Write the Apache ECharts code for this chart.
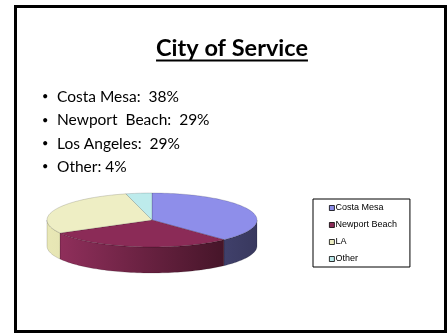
<!DOCTYPE html>
<html>
<head>
<meta charset="utf-8">
<script src="https://cdn.jsdelivr.net/npm/echarts@6/dist/echarts.min.js"></script>
<style>
html,body{margin:0;padding:0;background:#fff;}
#chart{width:448px;height:333px;}
</style>
</head>
<body>
<div id="chart"></div>
<script>
// ---- data ----
const titleText = 'City of Service';
const categories = ['Costa Mesa', 'Newport Beach', 'LA', 'Other'];
const values = [38, 29, 29, 4];
const bulletNames = ['Costa Mesa:  ', 'Newport  Beach:  ', 'Los Angeles:  ', 'Other: '];

// ---- style ----
const topColors = ['#8e8eea', '#8b2b57', '#eeeec4', '#bdebec'];
const sideColors = [['#6b6bb0', '#38385e'], ['#95315f', '#37101f'], ['#e9e8b6', '#b9b88a'], ['#a8d8d8', '#7eaaaa']];
const cx = 152, cy = 220, rx = 105, ry = 27, depth = 26;

const total = values.reduce((a, b) => a + b, 0);

function arcPts(a, b, dy) {
  const pts = [];
  const n = Math.max(2, Math.ceil(Math.abs(b - a) / 0.03));
  for (let i = 0; i <= n; i++) {
    const t = a + (b - a) * i / n;
    pts.push([cx + rx * Math.sin(t), cy - ry * Math.cos(t) + dy]);
  }
  return pts;
}

function makeRender(idx) {
  return function (params, api) {
    let before = 0;
    for (let k = 0; k < idx; k++) before += values[k];
    const v = api.value(0);
    const t1 = before / total * Math.PI * 2;
    const t2 = (before + v) / total * Math.PI * 2;
    const children = [];
    const a = Math.max(t1, Math.PI / 2), b = Math.min(t2, Math.PI * 1.5);
    if (b > a) {
      const pts = arcPts(a, b, 0).concat(arcPts(b, a, depth));
      children.push({
        type: 'polygon',
        shape: { points: pts },
        style: {
          fill: new echarts.graphic.LinearGradient(cx - rx, 0, cx + rx, 0, [
            { offset: 0, color: sideColors[idx][0] },
            { offset: 1, color: sideColors[idx][1] }
          ], true),
          stroke: 'rgba(0,0,0,0.3)', lineWidth: 0.5
        }
      });
    }
    const topPts = [[cx, cy]].concat(arcPts(t1, t2, 0));
    children.push({
      type: 'polygon',
      shape: { points: topPts },
      style: { fill: topColors[idx], stroke: 'rgba(0,0,0,0.3)', lineWidth: 0.5 }
    });
    return { type: 'group', children: children };
  };
}

const chart = echarts.init(document.getElementById('chart'), null, { renderer: 'canvas' });

const cvs = document.createElement('canvas').getContext('2d');
const titleFont = 'bold 23.5px Lato';
cvs.font = titleFont;
const titleW = cvs.measureText(titleText).width;
const titleX = 232;

const bulletText = bulletNames.map((n, i) => '{b|\u2022}{t|' + n + values[i] + '%}').join('\n');

chart.setOption({
  animation: false,
  title: [
    {
      text: titleText, left: titleX - titleW / 2, top: 34.5, padding: 0,
      textStyle: { fontFamily: 'Lato', fontWeight: 'bold', fontSize: 23.5, lineHeight: 28, color: '#000' }
    },
    {
      text: bulletText, left: 42, top: 85.3, padding: 0,
      textStyle: {
        fontFamily: 'Lato', fontWeight: 'normal', fontSize: 15.5, lineHeight: 23.3, color: '#000',
        rich: {
          b: { width: 15, fontFamily: 'Lato', fontSize: 11, lineHeight: 23.3, color: '#000' },
          t: { fontFamily: 'Lato', fontSize: 15.5, lineHeight: 23.3, color: '#000' }
        }
      }
    }
  ],
  legend: {
    orient: 'vertical', left: 313, top: 199,
    padding: [4, 13, 3, 16],
    borderColor: '#000', borderWidth: 1,
    itemWidth: 5, itemHeight: 5, itemGap: 7,
    icon: 'rect',
    itemStyle: { borderColor: '#000', borderWidth: 0.8 },
    data: categories,
    textStyle: { fontFamily: 'Liberation Sans', fontSize: 9, lineHeight: 10, color: '#000', padding: [0, 0, 0, -4] }
  },
  graphic: [
    { type: 'rect', silent: true, shape: { x: 15.5, y: 6.5, width: 430, height: 325 }, style: { fill: 'none', stroke: '#000', lineWidth: 3 } },
    { type: 'rect', silent: true, shape: { x: titleX - titleW / 2, y: 59.5, width: titleW, height: 2 }, style: { fill: '#000' } }
  ],
  series: categories.map((name, i) => ({
    type: 'custom',
    name: name,
    coordinateSystem: 'none',
    itemStyle: { color: topColors[i] },
    data: [[values[i]]],
    renderItem: makeRender(i)
  }))
});
</script>
</body>
</html>
